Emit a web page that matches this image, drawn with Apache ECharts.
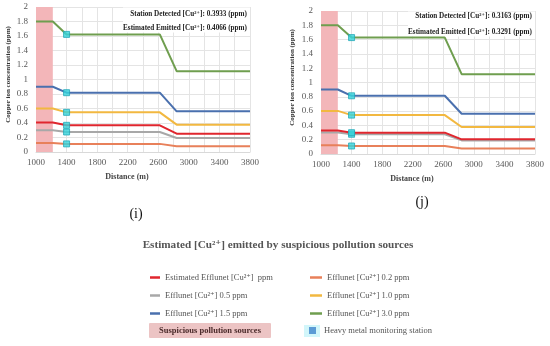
<!DOCTYPE html>
<html><head><meta charset="utf-8">
<script src="https://cdn.jsdelivr.net/npm/echarts/dist/echarts.min.js"></script>
<style>html,body{margin:0;padding:0;background:#fff}#c{width:550px;height:346px}</style>
</head><body><div id="c"></div>
<script>
// ---- data ----
const distance = [1000, 1220, 1400, 2620, 2840, 3800];
const stationX = 1400;
const sourceRange = [1000, 1220];

const seriesNames = [
  'Efflunet [Cu²⁺] 0.2 ppm',
  'Efflunet [Cu²⁺] 0.5 ppm',
  'Estimated Efflunet [Cu²⁺]  ppm',
  'Efflunet [Cu²⁺] 1.0 ppm',
  'Efflunet [Cu²⁺] 1.5 ppm',
  'Efflunet [Cu²⁺] 3.0 ppm'
];

// chart (i)
const e02_i = [0.124, 0.124, 0.112, 0.112, 0.080, 0.080];
const e05_i = [0.300, 0.300, 0.276, 0.276, 0.193, 0.193];
const est_i = [0.4066, 0.4066, 0.368, 0.368, 0.253, 0.253];
const e10_i = [0.600, 0.600, 0.547, 0.547, 0.377, 0.377];
const e15_i = [0.900, 0.900, 0.818, 0.818, 0.561, 0.561];
const e30_i = [1.800, 1.800, 1.622, 1.622, 1.115, 1.115];

// chart (j)
const e02_j = [0.122, 0.122, 0.112, 0.112, 0.078, 0.078];
const e05_j = [0.300, 0.300, 0.276, 0.276, 0.190, 0.190];
const est_j = [0.3291, 0.3291, 0.298, 0.298, 0.205, 0.205];
const e10_j = [0.603, 0.603, 0.544, 0.544, 0.377, 0.377];
const e15_j = [0.902, 0.902, 0.814, 0.814, 0.563, 0.563];
const e30_j = [1.800, 1.800, 1.628, 1.628, 1.116, 1.116];

const detected_i = '0.3933', emitted_i = '0.4066';
const detected_j = '0.3163', emitted_j = '0.3291';

// ---- styling ----
const colors = ['#e8805a', '#a8a8a8', '#e0262e', '#f2b840', '#4a70ae', '#6f9e4f'];
const SERIF = '"Liberation Serif", "DejaVu Serif", serif';

const dataI = [e02_i, e05_i, est_i, e10_i, e15_i, e30_i];
const dataJ = [e02_j, e05_j, est_j, e10_j, e15_j, e30_j];

const grids = [
  {left: 36, top: 7, width: 214, height: 145},
  {left: 321, top: 11, width: 214, height: 143}
];

function xAx(i) {
  return {
    type: 'value', gridIndex: i, min: 1000, max: 3800, interval: 200,
    axisLine: {show: true, lineStyle: {color: '#d9d9d9'}},
    axisTick: {show: false},
    splitLine: {lineStyle: {color: '#e4e4e4', width: 1}},
    axisLabel: {fontFamily: SERIF, fontSize: 9, color: '#595959', margin: 6,
      formatter: v => ((v - 1000) % 400 === 0 ? String(v) : '')}
  };
}
function yAx(i, gap) {
  return {
    type: 'value', gridIndex: i, min: 0, max: 2, interval: 0.2,
    axisLine: {show: false}, axisTick: {show: false},
    splitLine: {lineStyle: {color: '#e4e4e4', width: 1}},
    axisLabel: {fontFamily: SERIF, fontSize: 9, color: '#595959', margin: 8},
    name: 'Copper ion concentration (ppm)', nameLocation: 'middle', nameGap: gap,
    nameTextStyle: {fontFamily: SERIF, fontSize: 7, fontWeight: 'bold', color: '#333', padding: [0, 0, 0, 10]}
  };
}

const series = [];
[dataI, dataJ].forEach((set, gi) => {
  set.forEach((vals, k) => {
    const s = {
      type: 'line', name: seriesNames[k], xAxisIndex: gi, yAxisIndex: gi,
      data: distance.map((d, n) => [d, vals[n]]),
      showSymbol: false, symbol: 'none',
      lineStyle: {color: colors[k], width: 2}, itemStyle: {color: colors[k]},
      z: 3 + k, silent: true
    };
    if (k === 0) {
      s.markArea = {silent: true, itemStyle: {color: '#f3b6b9'},
        data: [[{xAxis: sourceRange[0], yAxis: 0}, {xAxis: sourceRange[1], yAxis: 2}]]};
    }
    series.push(s);
  });
  const idx = distance.indexOf(stationX);
  series.push({
    type: 'scatter', name: 'Heavy metal monitoring station', xAxisIndex: gi, yAxisIndex: gi,
    data: set.map(vals => [stationX, vals[idx]]),
    symbol: 'rect', symbolSize: 6, z: 20, silent: true,
    itemStyle: {color: '#36d4dc', borderColor: '#24a9b8', borderWidth: 1}
  });
});

const legendText = {fontFamily: SERIF, fontSize: 8.5, color: '#555', lineHeight: 11};
const legends = [
  {left: 145, top: 267, orient: 'vertical', itemGap: 7, itemWidth: 10, itemHeight: 2.5, icon: 'rect',
   textStyle: legendText, selectedMode: false,
   data: [seriesNames[2], seriesNames[1], seriesNames[4]]},
  {left: 305, top: 267, orient: 'vertical', itemGap: 7, itemWidth: 12, itemHeight: 2.5, icon: 'rect',
   textStyle: legendText, selectedMode: false,
   data: [seriesNames[0], seriesNames[3], seriesNames[5]]}
];

function txt(x, y, s, o) {
  return {type: 'text', x: x, y: y, silent: true, z: 100,
    style: Object.assign({text: s, fontFamily: SERIF, fill: '#333'}, o)};
}
const noteStyle = {fontSize: 7.2, fontWeight: 'bold', align: 'right', verticalAlign: 'middle', fill: '#222'};

const graphic = [
  {type: 'rect', silent: true, z: 1, shape: {x: 123, y: 7.5, width: 127, height: 25}, style: {fill: '#fff'}},
  {type: 'rect', silent: true, z: 1, shape: {x: 408, y: 11.5, width: 127, height: 25}, style: {fill: '#fff'}},
  txt(247, 14, 'Station Detected [Cu²⁺]: ' + detected_i + ' (ppm)', noteStyle),
  txt(247, 28, 'Estimated Emitted [Cu²⁺]: ' + emitted_i + ' (ppm)', noteStyle),
  txt(532, 16, 'Station Detected [Cu²⁺]: ' + detected_j + ' (ppm)', noteStyle),
  txt(532, 32, 'Estimated Emitted [Cu²⁺]: ' + emitted_j + ' (ppm)', noteStyle),
  txt(127, 177, 'Distance (m)', {fontSize: 8, fontWeight: 'bold', align: 'center', verticalAlign: 'middle', fill: '#444'}),
  txt(412, 179, 'Distance (m)', {fontSize: 8, fontWeight: 'bold', align: 'center', verticalAlign: 'middle', fill: '#444'}),
  txt(136, 214, '(i)', {fontSize: 14, align: 'center', verticalAlign: 'middle', fill: '#111'}),
  txt(422, 202, '(j)', {fontSize: 14, align: 'center', verticalAlign: 'middle', fill: '#111'}),
  txt(278, 245, 'Estimated [Cu²⁺] emitted by suspicious pollution sources', {fontSize: 11.2, fontWeight: 'bold', align: 'center', verticalAlign: 'middle', fill: '#555'}),
  {type: 'rect', silent: true, shape: {x: 149, y: 323, width: 122, height: 15, r: 1}, style: {fill: '#ecc4c4'}},
  txt(210, 331, 'Suspicious pollution sources', {fontSize: 8.5, fontWeight: 'bold', align: 'center', verticalAlign: 'middle', fill: '#4a2a2a'}),
  {type: 'rect', silent: true, shape: {x: 304, y: 325, width: 16, height: 12}, style: {fill: '#d2f6fa'}},
  {type: 'rect', silent: true, shape: {x: 309, y: 327, width: 7, height: 7}, style: {fill: '#5b9bd5'}},
  txt(324, 331, 'Heavy metal monitoring station', {fontSize: 8.5, align: 'left', verticalAlign: 'middle', fill: '#555'})
];

const chart = echarts.init(document.getElementById('c'), null, {renderer: 'canvas'});
chart.setOption({
  animation: false,
  backgroundColor: '#fff',
  grid: grids,
  xAxis: [xAx(0), xAx(1)],
  yAxis: [yAx(0, 24), yAx(1, 25)],
  legend: legends,
  series: series,
  graphic: graphic
});
</script></body></html>
